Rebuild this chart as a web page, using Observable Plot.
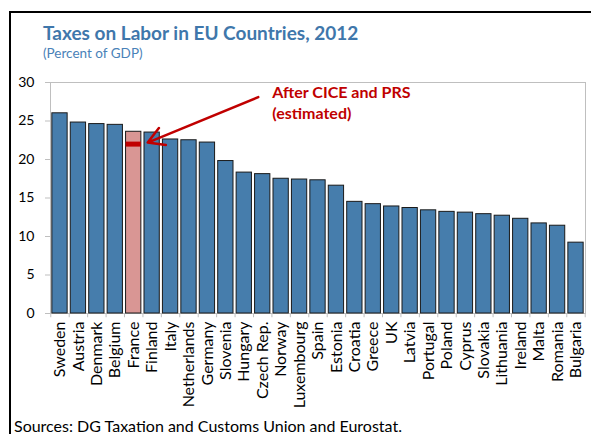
<!DOCTYPE html>
<html>
<head>
<meta charset="utf-8">
<script src="https://cdn.jsdelivr.net/npm/d3@7"></script>
<script src="https://cdn.jsdelivr.net/npm/@observablehq/plot@0.6"></script>
<style>
  html, body { margin: 0; padding: 0; background: #fff; overflow: hidden; }
  #wrap { position: relative; width: 591px; height: 434px; overflow: hidden; font-family: Lato, "Open Sans", sans-serif; }
  #frame { position: absolute; left: 9px; top: 11px; width: 700px; height: 600px; border-left: 2px solid #000; border-top: 2px solid #000; }
  #title { position: absolute; left: 43px; top: 23px; font-size: 19px; line-height: 1; font-weight: bold; color: #3f77ab; white-space: nowrap; }
  #subtitle { position: absolute; left: 43px; top: 47px; font-size: 13.5px; line-height: 1; color: #4a82b8; white-space: nowrap; }
  #source { position: absolute; left: 14px; top: 418px; font-size: 16px; line-height: 1; color: #000; white-space: nowrap; }
  #chart { position: absolute; left: 0; top: 0; }
</style>
</head>
<body>
<div id="wrap">
  <div id="frame"></div>
  <div id="chart"></div>
  <div id="title">Taxes on Labor in EU Countries, 2012</div>
  <div id="subtitle">(Percent of GDP)</div>
  <div id="source">Sources: DG Taxation and Customs Union and Eurostat.</div>
</div>
<script>
const countries = ["Sweden","Austria","Denmark","Belgium","France","Finland","Italy","Netherlands","Germany","Slovenia","Hungary","Czech Rep.","Norway","Luxembourg","Spain","Estonia","Croatia","Greece","UK","Latvia","Portugal","Poland","Cyprus","Slovakia","Lithuania","Ireland","Malta","Romania","Bulgaria"];
const values = [26.0, 24.8, 24.6, 24.5, 23.6, 23.5, 22.6, 22.5, 22.2, 19.8, 18.3, 18.1, 17.5, 17.4, 17.3, 16.6, 14.5, 14.2, 13.9, 13.7, 13.4, 13.2, 13.1, 12.9, 12.7, 12.3, 11.7, 11.4, 9.2];
const yTicks = [0, 5, 10, 15, 20, 25, 30];
const highlight = "France";
const franceAfter = [22.0];
const noteLines = ["After CICE and PRS", "(estimated)"];
const noteY = [28.7, 25.9];
const noteAnchor = "Hungary";
const arrowFrom = {x: "Hungary", y: 28.1};
const arrowTo = {x: "France", y: 22.2};

const data = countries.map((c, i) => ({country: c, value: values[i]}));
const W = 591, H = 434, mL = 50, mR = 6, mT = 82, mB = 121;
const pIn = 0.17, pOut = 0.1;
const step = (W - mL - mR) / (countries.length - pIn + 2 * pOut);
const half = step / 2;

const blue = "#467dac", pink = "#d99694", red = "#c00000", gray = "#bfbfbf";

const chart = Plot.plot({
  width: W, height: H,
  marginTop: mT, marginLeft: mL, marginRight: mR, marginBottom: mB,
  style: {fontFamily: "Lato, 'Open Sans', sans-serif", fontSize: "14px", color: "#000", background: "transparent", overflow: "visible"},
  x: {domain: countries, paddingInner: pIn, paddingOuter: pOut, round: false, label: null},
  y: {domain: [0, 30], label: null},
  marks: [
    Plot.frame({stroke: gray}),
    Plot.barY(data.filter(d => d.country !== highlight), {x: "country", y: "value", fill: blue, stroke: "#1a1a1a", strokeWidth: 1}),
    Plot.barY(data.filter(d => d.country === highlight), {x: "country", y: "value", fill: pink, stroke: "#1a1a1a", strokeWidth: 1}),
    Plot.tickY(franceAfter, {x: () => highlight, y: d => d, stroke: red, strokeWidth: 5}),
    Plot.ruleX(countries, {x: d => d, y1: 0, y2: -0.55, dx: -half, stroke: gray}),
    Plot.ruleX([countries[countries.length - 1]], {x: d => d, y1: 0, y2: -0.55, dx: half, stroke: gray}),
    Plot.arrow([{}], {x1: () => arrowFrom.x, y1: () => arrowFrom.y, x2: () => arrowTo.x, y2: () => arrowTo.y, dx: 14, stroke: red, strokeWidth: 2.5, headLength: 11}),
    Plot.text(noteLines, {x: () => noteAnchor, y: (d, i) => noteY[i], text: d => d, textAnchor: "start", dx: 28, fill: red, fontWeight: "bold", fontSize: 16}),
    Plot.axisY({ticks: yTicks, tickSize: 5, tickPadding: 11, stroke: gray, fill: "#000", fontSize: 14, label: null}),
    Plot.axisX({tickSize: 0, tickRotate: -90, tickPadding: 8, fill: "#000", fontSize: 16, label: null})
  ]
});
document.getElementById("chart").appendChild(chart);
</script>
</body>
</html>
